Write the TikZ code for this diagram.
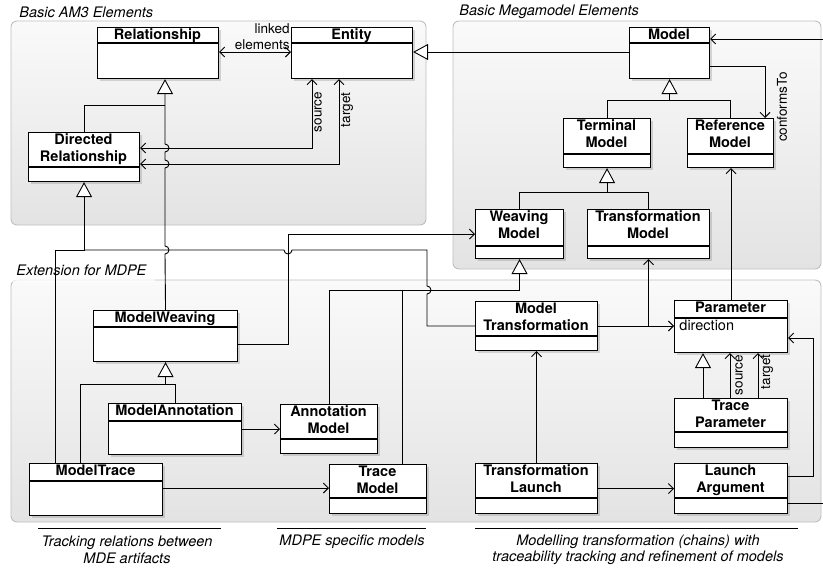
\documentclass[tikz,border=0pt]{standalone}
\usepackage{fontspec}
\setmainfont{TeX Gyre Heros}
\usetikzlibrary{arrows.meta}
\usetikzlibrary{shadows}
\newcommand{\umlclass}[7]{%
  \pgfmathsetmacro{\clswidth}{#4-#2}%
  \pgfmathsetmacro{\clsheight}{#5-#3}%
  \node[cls, minimum width=\clswidth pt, minimum height=\clsheight pt] (#1) at (#2,#3) {};
  \draw[line width=1.1pt] (#2,#6) -- (#4,#6);
  \node[clstitle] (#1-title) at ({(#2+#4)/2},#3) {#7};}

\begin{document}
\begin{tikzpicture}[x=1pt,y=-1pt,line width=0.9pt,
  >={Straight Barb[length=5pt,width=10pt]},
  group/.style={draw=black!25, rounded corners=6pt, top color=black!2, bottom color=black!11},
  grouplabel/.style={font=\fontsize{14.5}{17}\selectfont\itshape, anchor=west, inner sep=2pt},
  cls/.style={draw, line width=1.1pt, fill=white, inner sep=0pt, anchor=north west,
    drop shadow={shadow xshift=2pt, shadow yshift=-2pt, opacity=0.3}},
  clstitle/.style={font=\fontsize{14.5}{17}\selectfont\bfseries, align=center, anchor=north, inner sep=1.5pt},
  gen/.style={-{Triangle[length=15pt,width=16pt,fill=white]}},
  lbl/.style={font=\fontsize{13.5}{15.5}\selectfont, inner sep=1pt},
  caption/.style={font=\fontsize{14.5}{16.5}\selectfont\itshape, align=center}]
  \useasboundingbox (0,0) rectangle (823,568);

  % groups
  \path[group] (11,21) rectangle (426,225);
  \path[group] (453,21) rectangle (821,269);
  \path[group] (11,280) rectangle (821,522);
  \fill[white, opacity=0.7] (11,259) rectangle (155,281.5);
  \node[grouplabel] (am3) at (17,12) {Basic AM3 Elements};
  \node[grouplabel] (mega) at (457,12) {Basic Megamodel Elements};
  \node[grouplabel] (mdpe) at (14,270) {Extension for MDPE};

  % classes
  \umlclass{Relationship}{97}{27}{218}{78}{43}{Relationship}
  \umlclass{Entity}{291}{27}{412}{78}{43}{Entity}
  \umlclass{DirRel}{28}{132}{139}{181}{167}{Directed\\Relationship}
  \umlclass{Model}{629}{27}{709}{78}{43}{Model}
  \umlclass{TerminalModel}{563}{118}{650}{167}{154}{Terminal\\Model}
  \umlclass{RefModel}{687}{118}{773}{167}{154}{Reference\\Model}
  \umlclass{WeavingModel}{475}{209}{563}{258}{246}{Weaving\\Model}
  \umlclass{TransModel}{587}{209}{709}{258}{246}{Transformation\\Model}
  \umlclass{ModelWeaving}{93}{310}{237}{361}{327}{ModelWeaving}
  \umlclass{ModelAnnotation}{108}{403}{241}{454}{421}{ModelAnnotation}
  \umlclass{AnnotationModel}{280}{404}{377}{453}{439}{Annotation\\Model}
  \umlclass{ModelTrace}{29}{463}{162}{515}{481}{ModelTrace}
  \umlclass{TraceModel}{329}{464}{426}{513}{498}{Trace\\Model}
  \umlclass{ModelTransformation}{475}{301}{597}{350}{336}{Model\\Transformation}
  \umlclass{Parameter}{674}{300}{787}{352}{318}{Parameter}
  \umlclass{TraceParameter}{674}{398}{787}{447}{432}{Trace\\Parameter}
  \umlclass{TransLaunch}{475}{463}{597}{513}{498}{Transformation\\Launch}
  \umlclass{LaunchArg}{674}{463}{787}{513}{498}{Launch\\Argument}
  \node[lbl, font=\fontsize{14.5}{17}\selectfont, anchor=west] (direction) at (678,325) {direction};

  % basic AM3 elements
  \draw[<->] (Relationship.east |- 0,52) -- (Entity.west |- 0,52)
    node[lbl, pos=1, anchor=south east, align=right, yshift=1pt] (linked) {linked\\elements};
  \draw (DirRel.north) |- (165,105);
  \draw[gen] (ModelWeaving.north) -- (165,254) arc[start angle=-90, end angle=90, radius=4pt]
    -- (165,168) arc[start angle=-90, end angle=90, radius=4pt]
    -- (165,152) arc[start angle=-90, end angle=90, radius=4pt]
    -- (Relationship.south -| 165,0);
  \draw[<->] (Entity.south -| 312,0) |- (DirRel.east |- 0,148);
  \draw[<->] (Entity.south -| 339,0) |- (DirRel.east |- 0,164);
  \node[lbl, rotate=90] (source1) at (318,112) {source};
  \node[lbl, rotate=90] (target1) at (347,110) {target};

  % basic megamodel elements
  \draw[gen] (Model.west |- 0,52) -- (Entity.east |- 0,52);
  \draw[->] (Model.east |- 0,66) -| (RefModel.north -| 765,0);
  \node[lbl, rotate=90] (conforms) at (782,107) {conformsTo};
  \draw[gen] (TerminalModel.north) |- (Model.south |- 0,100) -- (Model.south);
  \draw (RefModel.north) |- (Model.south |- 0,100);
  \draw[gen] (WeavingModel.north) |- (TerminalModel.south |- 0,192) -- (TerminalModel.south);
  \draw (TransModel.north) |- (TerminalModel.south |- 0,192);

  % extension for MDPE
  \draw[gen] (ModelAnnotation.north) |- (ModelWeaving.south |- 0,384) -- (ModelWeaving.south);
  \draw (ModelTrace.north -| 80,0) |- (ModelWeaving.south |- 0,384);
  \draw[gen] (ModelTrace.north -| 55,0) |- (DirRel.south |- 0,250) -- (DirRel.south);
  \draw (ModelTransformation.west |- 0,326) -- (427,326) -- (427,294)
    arc[start angle=-90, end angle=90, radius=4pt] -- (427,250) -- (292,250)
    arc[start angle=0, end angle=-180, radius=4pt] -- (DirRel.south |- 0,250);
  \draw[->] (ModelWeaving.east |- 0,344) -| (WeavingModel.west -| 288,0) -- (WeavingModel.west);
  \draw[->] (ModelAnnotation.east) -- (AnnotationModel.west);
  \draw[->] (ModelTrace.east |- 0,488) -- (TraceModel.west |- 0,488);
  \draw[gen] (AnnotationModel.north) |- (WeavingModel.south |- 0,290) -- (WeavingModel.south);
  \draw (TraceModel.north -| 402,0) -- (402,290);

  % transformations
  \draw[->] (ModelTransformation.east |- 0,326) -- (Parameter.west |- 0,326);
  \draw[->] (ModelTransformation.east |- 0,326) -| (TransModel.south);
  \draw[->] (Parameter.north) -- (Parameter.north |- RefModel.south);
  \draw[gen] (TraceParameter.north -| 703,0) -- (Parameter.south -| 703,0);
  \draw[->] (TraceParameter.north -| 730,0) -- (Parameter.south -| 730,0);
  \draw[->] (TraceParameter.north -| 758,0) -- (Parameter.south -| 758,0);
  \node[lbl, rotate=90] (source2) at (739,375) {source};
  \node[lbl, rotate=90] (target2) at (767,372) {target};
  \draw[->] (TransLaunch.north) -- (ModelTransformation.south);
  \draw[->] (TransLaunch.east) -- (LaunchArg.west);
  \draw[->] (LaunchArg.east |- 0,476) -| (813,338) -- (Parameter.east |- 0,338);
  \draw[->] (LaunchArg.east |- 0,503) -- (830,503) -- (830,39) -- (Model.east |- 0,39);

  % captions
  \draw (38,528) -- (221,528);
  \draw (277,528) -- (426,528);
  \draw (475,528) -- (798,528);
  \node[caption] (cap1) at (127,550) {Tracking relations between\\MDE artifacts};
  \node[caption] (cap2) at (352,542) {MDPE specific models};
  \node[caption] (cap3) at (638,550) {Modelling transformation (chains) with\\traceability tracking and refinement of models};
\end{tikzpicture}
\end{document}
